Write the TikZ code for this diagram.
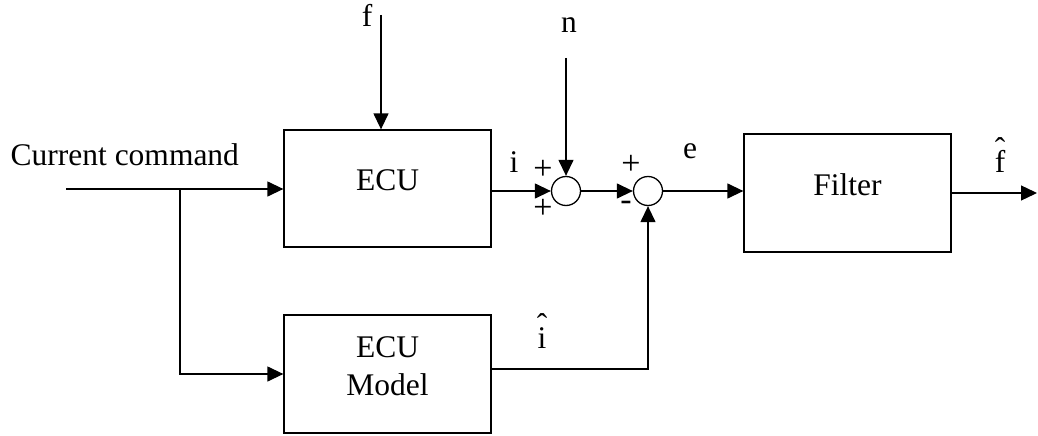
\documentclass[tikz,border=0pt]{standalone}
\usepackage{fontspec}
\setmainfont{Liberation Serif}
\usetikzlibrary{arrows.meta}
\newcommand{\hatlbl}[1]{\ooalign{#1\cr\hidewidth\raisebox{13pt}{\char"02C6}\hidewidth\cr}}
\begin{document}
\begin{tikzpicture}[x=1pt,y=-1pt, font=\fontsize{31.5}{38}\selectfont, line width=1.3pt,
 arr/.style={-{Triangle[length=16pt,width=15pt]}},
 blk/.style={draw, minimum width=207pt, minimum height=117pt, inner sep=0pt, text depth=16pt, align=center},
 sumc/.style={draw, circle, minimum size=29pt, inner sep=0pt},
 lbl/.style={inner sep=0pt, anchor=base},
 sgn/.style={inner sep=0pt, font=\fontsize{34}{34}\selectfont}]
\useasboundingbox (0,0) rectangle (1038,436);
\node[blk] (ecu) at (387.5,188.5) {ECU};
\node[blk, minimum height=118pt] (model) at (387.5,374) {ECU\\Model};
\node[blk, minimum height=118pt] (filt) at (847.5,193) {Filter};
\node[sumc] (s1) at (566,191) {};
\node[sumc] (s2) at (648,191) {};
\node[anchor=base west, inner sep=0pt] (cc) at (10,165) {Current command};
\coordinate (in) at (66,189);
\coordinate (br) at (180,189);
\coordinate (ftop) at (381,15);
\coordinate (ntop) at (566,58);
\coordinate (out) at (1037,193);
\draw[arr] (in) -- (in -| ecu.west);
\draw[arr] (br) |- (model.west);
\draw[arr] (ftop) -- (ftop |- ecu.north);
\draw[arr] (ecu.east |- s1) -- (s1);
\draw[arr] (ntop) -- (s1);
\draw[arr] (s1) -- (s2);
\draw[arr] (s2) -- (s2 -| filt.west);
\draw[arr] (filt.east |- out) -- (out);
\draw[arr] ([yshift=5pt]model.east) -| (s2);
\node[lbl] (lf) at (367,27) {f};
\node[lbl] (ln) at (569,33) {n};
\node[lbl] (li) at (514,172) {i};
\node[lbl] (le) at (690,158) {e};
\node[lbl] (lfh) at (1000,172) {\hatlbl{f}};
\node[lbl] (lih) at (542,348) {\hatlbl{i}};
\node[sgn] (p1) at (543,170) {+};
\node[sgn] (p2) at (543,208.5) {+};
\node[sgn] (p3) at (631,165) {+};
\node[sgn] (m1) at (626,206) {-};
\end{tikzpicture}
\end{document}
